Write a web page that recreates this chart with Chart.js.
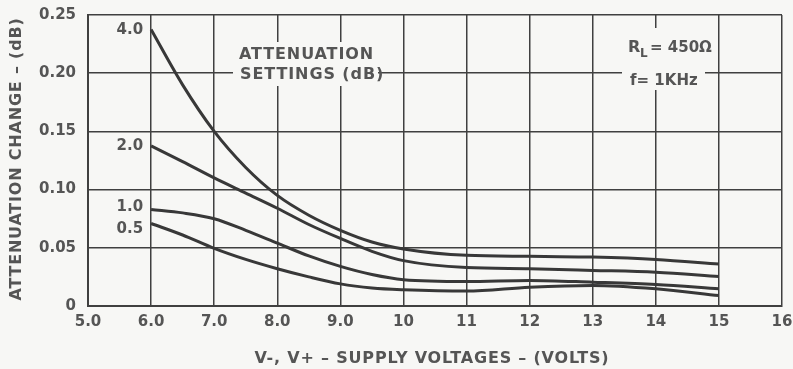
<!DOCTYPE html>
<html>
<head>
<meta charset="utf-8">
<script src="https://cdn.jsdelivr.net/npm/chart.js@4.4.1/dist/chart.umd.min.js"></script>
<style>
  html, body { margin: 0; padding: 0; background: #f7f7f5; }
  #wrap { width: 793px; height: 369px; }
</style>
</head>
<body>
<div id="wrap"><canvas id="attChart" width="793" height="369"></canvas></div>
<script>
// supply voltage (V) where the curves were read
const supply = [6, 6.5, 7, 7.5, 8, 8.5, 9, 9.5, 10, 11, 12, 13, 14, 15];

// attenuation change (dB) for each attenuation setting
const att40 = [0.2375, 0.19, 0.150, 0.119, 0.095, 0.078, 0.065, 0.055, 0.049, 0.0435, 0.0427, 0.042, 0.040, 0.036];
const att20 = [0.1375, 0.124, 0.110, 0.097, 0.084, 0.070, 0.058, 0.047, 0.039, 0.033, 0.032, 0.0306, 0.029, 0.0254];
const att10 = [0.083, 0.080, 0.075, 0.065, 0.054, 0.043, 0.034, 0.027, 0.0226, 0.0211, 0.022, 0.0205, 0.0185, 0.0148];
const att05 = [0.0709, 0.061, 0.0495, 0.040, 0.032, 0.025, 0.019, 0.0155, 0.014, 0.0128, 0.0162, 0.0177, 0.0148, 0.009];

const settingLabels = ['4.0', '2.0', '1.0', '0.5'];
const xTickLabels = ['5.0', '6.0', '7.0', '8.0', '9.0', '10', '11', '12', '13', '14', '15', '16'];
const yTickLabels = ['0', '0.05', '0.10', '0.15', '0.20', '0.25'];

const ink = '#383838';
const gridInk = '#404040';
const textGray = '#555555';
const bg = '#f7f7f5';
const font = '"DejaVu Sans", sans-serif';

const toPoints = (ys) => ys.map((y, i) => ({ x: supply[i], y: y }));

// text boxes and titles drawn on top, with a background patch hiding the grid
const annotations = {
  id: 'annotations',
  afterDatasetsDraw(chart) {
    const ctx = chart.ctx;
    const xs = chart.scales.x;
    const ys = chart.scales.y;
    ctx.save();

    // masks behind the two text blocks
    ctx.fillStyle = bg;
    ctx.fillRect(233, 42, 145, 44);
    ctx.fillRect(622, 28, 96, 36);
    ctx.fillRect(622, 64, 83, 26);

    ctx.fillStyle = textGray;
    ctx.textBaseline = 'middle';
    ctx.textAlign = 'left';

    ctx.font = 'bold 16px ' + font;
    ctx.letterSpacing = '0.9px';
    ctx.fillText('ATTENUATION', 239, 55);
    ctx.fillText('SETTINGS (dB)', 240, 75);

    ctx.letterSpacing = '0px';
    ctx.font = 'bold 16px ' + font;
    ctx.fillText('R', 628, 48);
    ctx.font = 'bold 12px ' + font;
    ctx.fillText('L', 640, 54);
    ctx.font = 'bold 15px ' + font;
    ctx.fillText('= 450Ω', 650, 48);
    ctx.fillText('f= 1KHz', 630, 81);

    // setting labels next to the start of each curve
    ctx.textAlign = 'right';
    ctx.font = 'bold 15px ' + font;
    chart.data.datasets.forEach((ds, i) => {
      const p = ds.data[0];
      let y = ys.getPixelForValue(p.y);
      if (i === 3) y += 6;
      if (i === 2) y -= 2;
      if (i === 0) y += 1;
      ctx.fillText(settingLabels[i], xs.getPixelForValue(p.x) - 8, y);
    });

    // axis titles
    ctx.textAlign = 'center';
    ctx.font = 'bold 16px ' + font;
    ctx.letterSpacing = '0.8px';
    ctx.fillText('V-, V+ – SUPPLY VOLTAGES – (VOLTS)', 432, 359);
    ctx.translate(17, 159);
    ctx.rotate(-Math.PI / 2);
    ctx.fillText('ATTENUATION CHANGE – (dB)', 0, 0);
    ctx.restore();
  }
};

const bgFill = {
  id: 'bgFill',
  beforeDraw(chart) {
    const ctx = chart.ctx;
    ctx.save();
    ctx.fillStyle = bg;
    ctx.fillRect(0, 0, chart.width, chart.height);
    ctx.restore();
  }
};

const lineStyle = {
  borderColor: ink,
  borderWidth: 3,
  pointRadius: 0,
  fill: false,
  cubicInterpolationMode: 'monotone'
};

new Chart(document.getElementById('attChart'), {
  type: 'line',
  data: {
    datasets: [
      { label: '4.0', data: toPoints(att40), ...lineStyle },
      { label: '2.0', data: toPoints(att20), ...lineStyle },
      { label: '1.0', data: toPoints(att10), ...lineStyle },
      { label: '0.5', data: toPoints(att05), ...lineStyle }
    ]
  },
  options: {
    responsive: false,
    animation: false,
    layout: { padding: { left: 0, right: 11, top: 15, bottom: 0 } },
    plugins: {
      legend: { display: false },
      tooltip: { enabled: false }
    },
    scales: {
      x: {
        type: 'linear',
        min: 5,
        max: 16,
        afterFit(scale) {
          scale.height = 63;
          scale.paddingLeft = 0;
          scale.paddingRight = 0;
        },
        afterBuildTicks(scale) {
          scale.ticks = xTickLabels.map((t, i) => ({ value: 5 + i }));
        },
        ticks: {
          padding: 7,
          color: textGray,
          font: { family: font, size: 15, weight: 'bold' },
          maxRotation: 0,
          autoSkip: false,
          callback: (v, i) => xTickLabels[i]
        },
        grid: { color: gridInk, lineWidth: 1.5, drawTicks: false },
        border: { color: gridInk, width: 2 }
      },
      y: {
        type: 'linear',
        min: 0,
        max: 0.25,
        afterFit(scale) {
          scale.width = 88;
          scale.paddingTop = 0;
          scale.paddingBottom = 0;
        },
        afterBuildTicks(scale) {
          scale.ticks = yTickLabels.map((t, i) => ({ value: i * 0.05 }));
        },
        ticks: {
          padding: 12,
          color: textGray,
          font: { family: font, size: 15, weight: 'bold' },
          autoSkip: false,
          callback: (v, i) => yTickLabels[i]
        },
        grid: { color: gridInk, lineWidth: 1.5, drawTicks: false },
        border: { color: gridInk, width: 2 }
      }
    }
  },
  plugins: [bgFill, annotations]
});
</script>
</body>
</html>
